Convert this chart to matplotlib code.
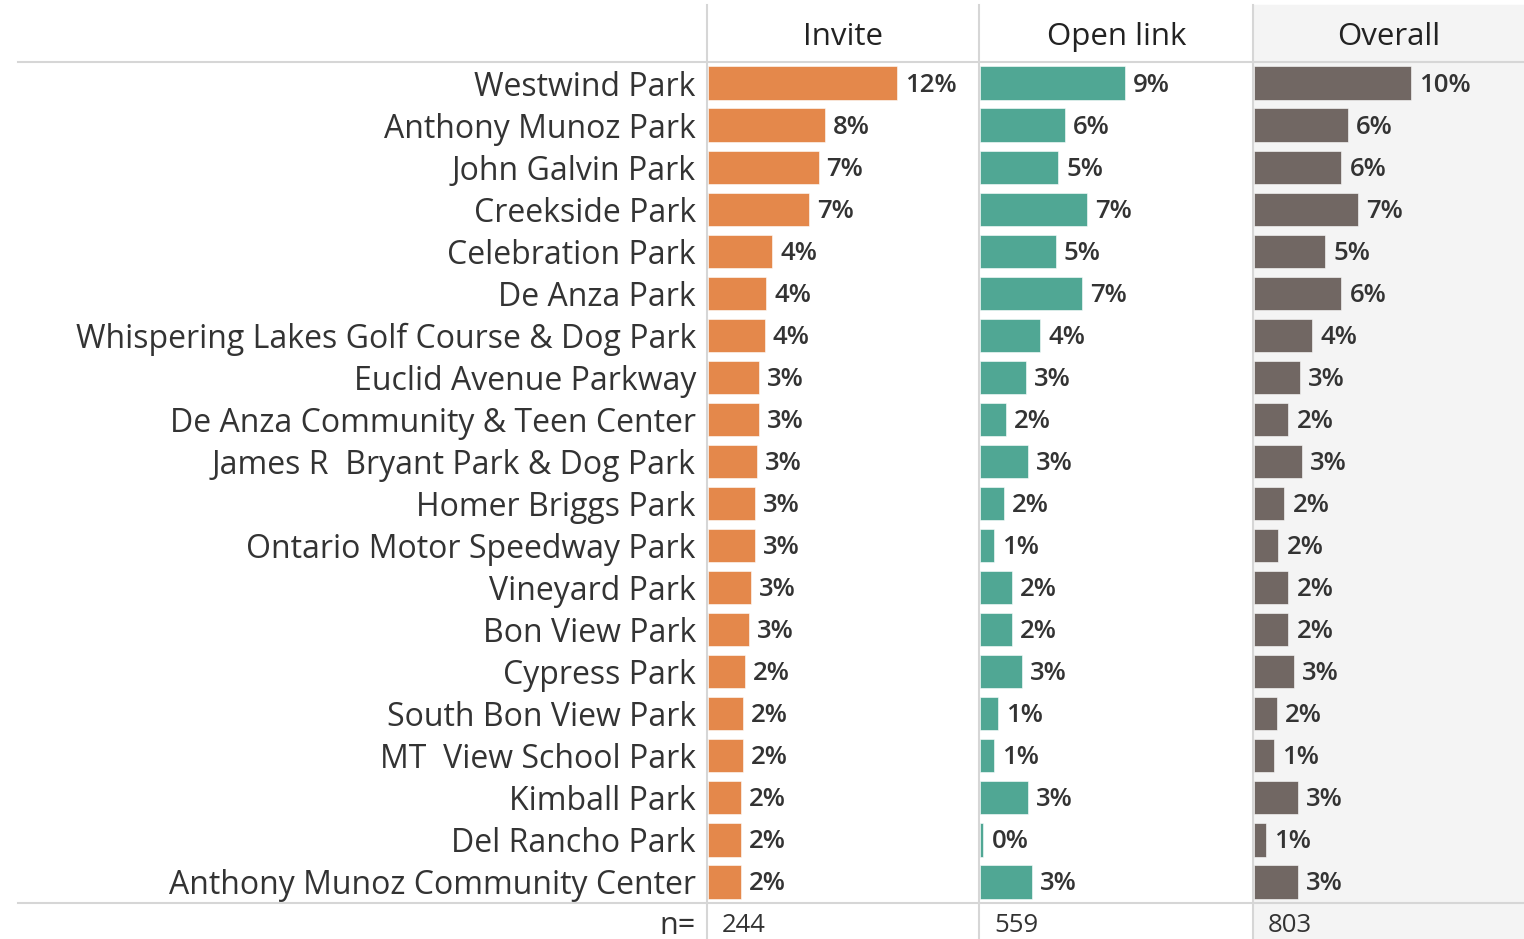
import matplotlib.pyplot as plt
from matplotlib.lines import Line2D
from matplotlib.patches import Rectangle

plt.rcParams['font.family'] = ['Open Sans', 'DejaVu Sans']

parks = ["Westwind Park", "Anthony Munoz Park", "John Galvin Park", "Creekside Park",
         "Celebration Park", "De Anza Park", "Whispering Lakes Golf Course & Dog Park",
         "Euclid Avenue Parkway", "De Anza Community & Teen Center",
         "James R  Bryant Park & Dog Park", "Homer Briggs Park",
         "Ontario Motor Speedway Park", "Vineyard Park", "Bon View Park", "Cypress Park",
         "South Bon View Park", "MT  View School Park", "Kimball Park",
         "Del Rancho Park", "Anthony Munoz Community Center"]

# percent of respondents per park, by survey channel
invite = [12.3, 7.6, 7.2, 6.6, 4.2, 3.8, 3.69, 3.32, 3.32, 3.17,
          3.04, 3.04, 2.78, 2.65, 2.39, 2.26, 2.26, 2.13, 2.13, 2.13]
open_link = [9.45, 5.55, 5.1, 7.0, 4.95, 6.65, 3.93, 3.02, 1.71, 3.15,
             1.58, 0.93, 2.1, 2.1, 2.76, 1.19, 0.93, 3.15, 0.22, 3.41]
overall = [10.2, 6.1, 5.7, 6.8, 4.65, 5.7, 3.8, 3.02, 2.24, 3.15,
           1.98, 1.59, 2.24, 2.24, 2.63, 1.52, 1.32, 2.89, 0.8, 2.89]

columns = ["Invite", "Open link", "Overall"]
n_values = [244, 559, 803]
colors = ["#E4884B", "#50A794", "#716763"]

W, H = 1524, 939
fig = plt.figure(figsize=(W / 100, H / 100), dpi=100)
px = 72 / 100  # points per pixel

# panel edges in pixels
seps = [707, 979, 1253, 1524]
top, bottom = 62, 903
px_per_pct = 15.35

# grey background behind the Overall column
fig.add_artist(Rectangle((seps[2] / W, 0), (W - seps[2]) / W, (H - 5) / H,
                         transform=fig.transFigure, color="#F4F4F4", zorder=0))

for k, (name, vals) in enumerate(zip(columns, [invite, open_link, overall])):
    x0 = seps[k] + 1
    w = seps[k + 1] - x0
    ax = fig.add_axes([x0 / W, (H - bottom) / H, w / W, (bottom - top) / H])
    ax.set_facecolor("none")
    ax.barh(range(len(parks)), vals, height=0.79, color=colors[k],
            edgecolor="white", linewidth=0.4)
    ax.set_xlim(0, w / px_per_pct)
    ax.set_ylim(len(parks) - 0.5, -0.5)
    for i, v in enumerate(vals):
        ax.annotate(f"{v:.0f}%", (v, i), xytext=(8 * px, -2 * px), textcoords="offset points",
                    va="center", ha="left", fontsize=18.5, fontweight="semibold",
                    color="#333333")
    ax.annotate(name, (0.5, 1), xycoords="axes fraction", xytext=(0, 25 * px),
                textcoords="offset points", ha="center", va="center",
                fontsize=22.5, color="#222222")
    ax.annotate(str(n_values[k]), (0, 0), xycoords="axes fraction",
                xytext=(14 * px, -23 * px), textcoords="offset points",
                ha="left", va="center", fontsize=18.5, color="#333333")
    ax.set_xticks([])
    if k == 0:
        ax.set_yticks(range(len(parks)), labels=parks)
        ax.tick_params(axis="y", length=0, pad=12 * px, labelsize=23, labelcolor="#333333")
        ax.annotate("n=", (0, 0), xycoords="axes fraction",
                    xytext=(-12 * px, -23 * px), textcoords="offset points",
                    ha="right", va="center", fontsize=22, color="#333333")
    else:
        ax.set_yticks([])
    for s in ax.spines.values():
        s.set_visible(False)

# table rules
line_kw = dict(transform=fig.transFigure, color="#D6D6D6", linewidth=1.5, zorder=5)
for y in (top, bottom):
    fig.add_artist(Line2D([18 / W, 1], [(H - y) / H] * 2, **line_kw))
for x in seps[:3]:
    fig.add_artist(Line2D([x / W] * 2, [0, (H - 5) / H], **line_kw))

fig.savefig("out.png", dpi=100, facecolor="white")
